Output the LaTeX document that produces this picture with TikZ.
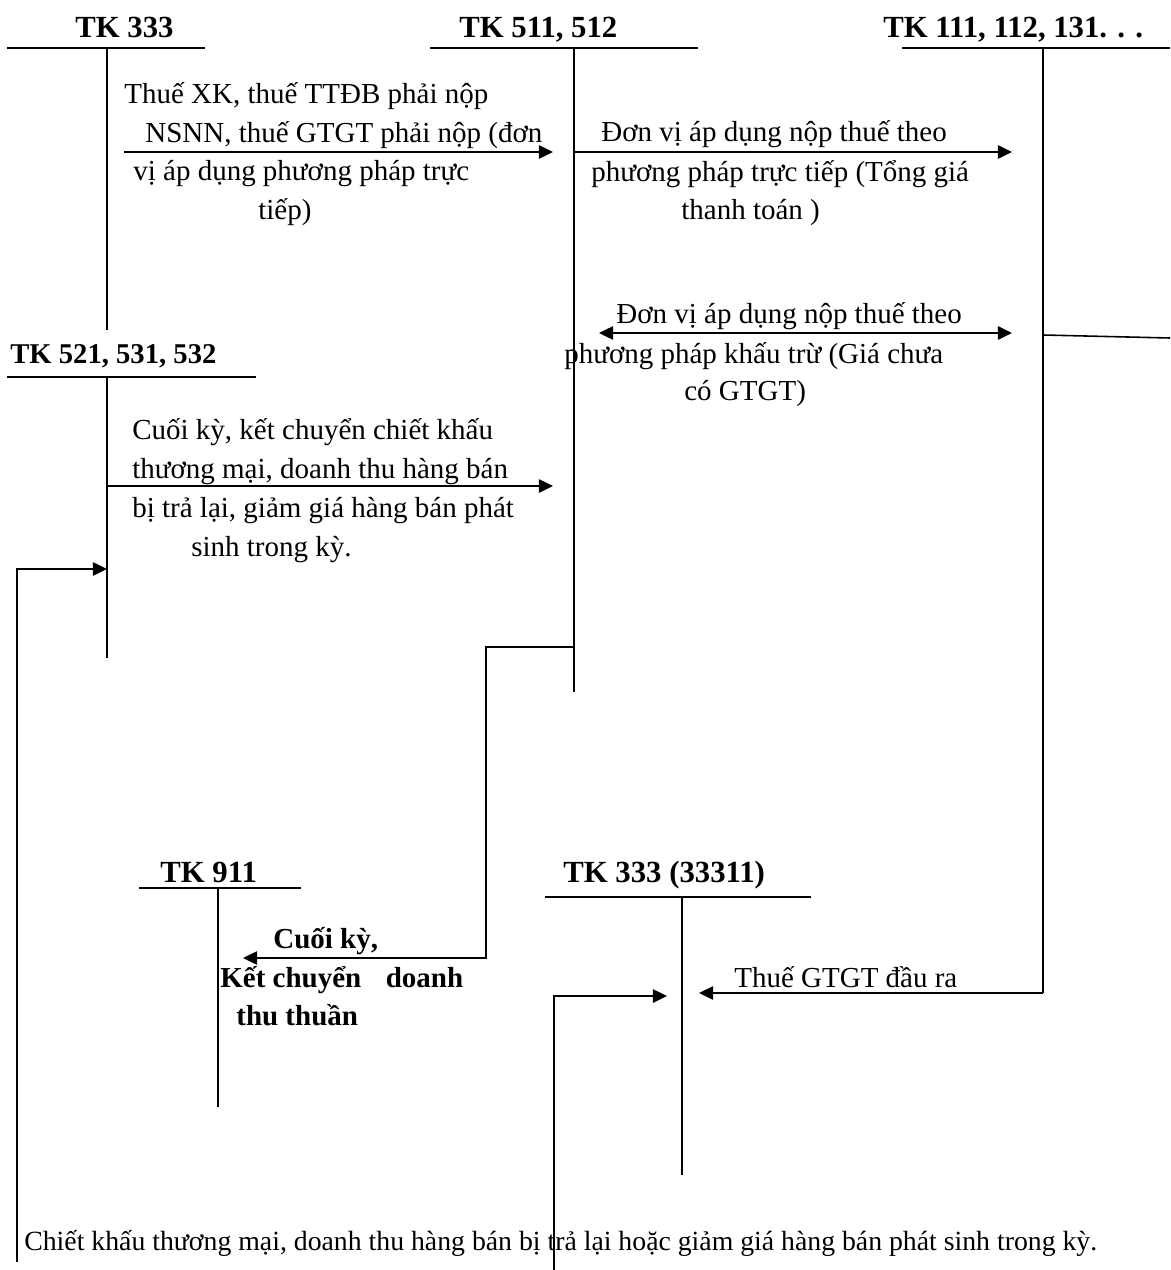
\documentclass[tikz,border=0pt]{standalone}
\usepackage{fontspec}
\setmainfont{Liberation Serif}
\usetikzlibrary{arrows.meta}
\begin{document}
\begin{tikzpicture}[x=0.02cm, y=-0.02cm,
    lbl/.style={anchor=base west, inner sep=0pt, font=\fontsize{16.5}{20}\selectfont},
    bld/.style={anchor=base west, inner sep=0pt, font=\fontsize{16.5}{20}\selectfont\bfseries},
    ttl/.style={anchor=base west, inner sep=0pt, font=\fontsize{17.5}{21}\selectfont\bfseries},
    tline/.style={line width=0.9pt},
    uline/.style={line width=1pt},
    arr/.style={line width=1.2pt, -{Triangle[length=8pt,width=7.5pt]}},
    darr/.style={line width=1.2pt, {Triangle[length=8pt,width=7.5pt]}-{Triangle[length=8pt,width=7.5pt]}}]
    \useasboundingbox (0,0) rectangle (1170,1270);
    % account titles
    \node[ttl] (k333)  at (75,38)   {TK 333};
    \node[ttl] (k511)  at (459,38)  {TK 511, 512};
    \node[ttl] (k111)  at (883,38)  {TK 111, 112, 131. . .};
    \node[ttl, font=\fontsize{16.3}{20}\selectfont\bfseries] (k521) at (10,363) {TK 521, 531, 532};
    \node[ttl] (k911)  at (160,882) {TK 911};
    \node[ttl] (k3331) at (563,882) {TK 333 (33311)};
    % T accounts
    \coordinate (t333) at (107,48);   \coordinate (b333) at (107,330);
    \coordinate (t511) at (574,48);   \coordinate (b511) at (574,692);
    \coordinate (t111) at (1043,48);  \coordinate (b111) at (1043,993);
    \coordinate (t521) at (107,377);  \coordinate (b521) at (107,658);
    \coordinate (t911) at (218,888);  \coordinate (b911) at (218,1107);
    \coordinate (t3331) at (682,897); \coordinate (b3331) at (682,1175);
    \draw[uline] (7,48) -- (205,48);
    \draw[uline] (430,48) -- (698,48);
    \draw[uline] (902,48) -- (1170,48);
    \draw[uline] (7,377) -- (256,377);
    \draw[uline] (139,888) -- (301,888);
    \draw[uline] (545,897) -- (811,897);
    \draw[tline] (t333) -- (b333);
    \draw[tline] (t511) -- (b511);
    \draw[tline] (t111) -- (b111);
    \draw[tline] (t521) -- (b521);
    \draw[tline] (t911) -- (b911);
    \draw[tline] (t3331) -- (b3331);
    % TK 333 -> TK 511
    \coordinate (a1s) at (124,152);
    \coordinate (a1e) at (553,152);
    \draw[arr] (a1s) -- (a1e);
    \node[lbl] (x1a) at (124,104) {Thuế XK, thuế TTĐB phải nộp};
    \node[lbl] (x1b) at (145,143) {NSNN, thuế GTGT phải nộp (đơn};
    \node[lbl] (x1c) at (133,181) {vị áp dụng phương pháp trực};
    \node[lbl] (x1d) at (258,220) {tiếp)};
    % TK 511 -> TK 111
    \coordinate (a2e) at (1012,152);
    \draw[arr] (t511 |- a2e) -- (a2e);
    \node[lbl] (x2a) at (601,142) {Đơn vị áp dụng nộp thuế theo};
    \node[lbl] (x2b) at (591,182) {phương pháp trực tiếp (Tổng giá};
    \node[lbl] (x2c) at (681,220) {thanh toán )};
    \coordinate (a3s) at (599,333);
    \coordinate (a3e) at (1012,333);
    \draw[darr] (a3s) -- (a3e);
    \coordinate (l111) at (1043,335);
    \coordinate (r111) at (1170,338);
    \draw[tline] (l111) -- (r111);
    \node[lbl] (x3a) at (616,323) {Đơn vị áp dụng nộp thuế theo};
    \node[lbl] (x3b) at (564,363) {phương pháp khấu trừ (Giá chưa};
    \node[lbl] (x3c) at (684,400) {có GTGT)};
    % TK 521 -> TK 511
    \coordinate (a4e) at (553,486);
    \draw[arr] (t521 |- a4e) -- (a4e);
    \node[lbl] (x4a) at (132,439) {Cuối kỳ, kết chuyển chiết khấu};
    \node[lbl] (x4b) at (132,478) {thương mại, doanh thu hàng bán};
    \node[lbl] (x4c) at (132,517) {bị trả lại, giảm giá hàng bán phát};
    \node[lbl] (x4d) at (191,556) {sinh trong kỳ.};
    \coordinate (a5s) at (17,1262);
    \coordinate (a5e) at (107,569);
    \draw[arr] (a5s) |- (a5e);
    % TK 511 -> TK 911
    \coordinate (a6m) at (486,647);
    \coordinate (a6e) at (243,958);
    \draw[arr] (t511 |- a6m) -- (a6m) |- (a6e);
    \node[bld] (x6a) at (273,948) {Cuối kỳ,};
    \node[bld] (x6b) at (220,987) {Kết chuyển\hspace{14pt}doanh};
    \node[bld] (x6c) at (236,1025) {thu thuần};
    % TK 111 -> TK 333 (33311)
    \coordinate (a7e) at (699,993);
    \draw[arr] (b111) -- (a7e);
    \node[lbl] (x7) at (734,987) {Thuế GTGT đầu ra};
    \coordinate (a8s) at (554,1270);
    \coordinate (a8e) at (667,996);
    \draw[arr] (a8s) |- (a8e);
    \node[lbl, font=\fontsize{15.8}{19}\selectfont] (x8) at (24,1250) {Chiết khấu thương mại, doanh thu hàng bán bị trả lại hoặc giảm giá hàng bán phát sinh trong kỳ.};
\end{tikzpicture}
\end{document}
